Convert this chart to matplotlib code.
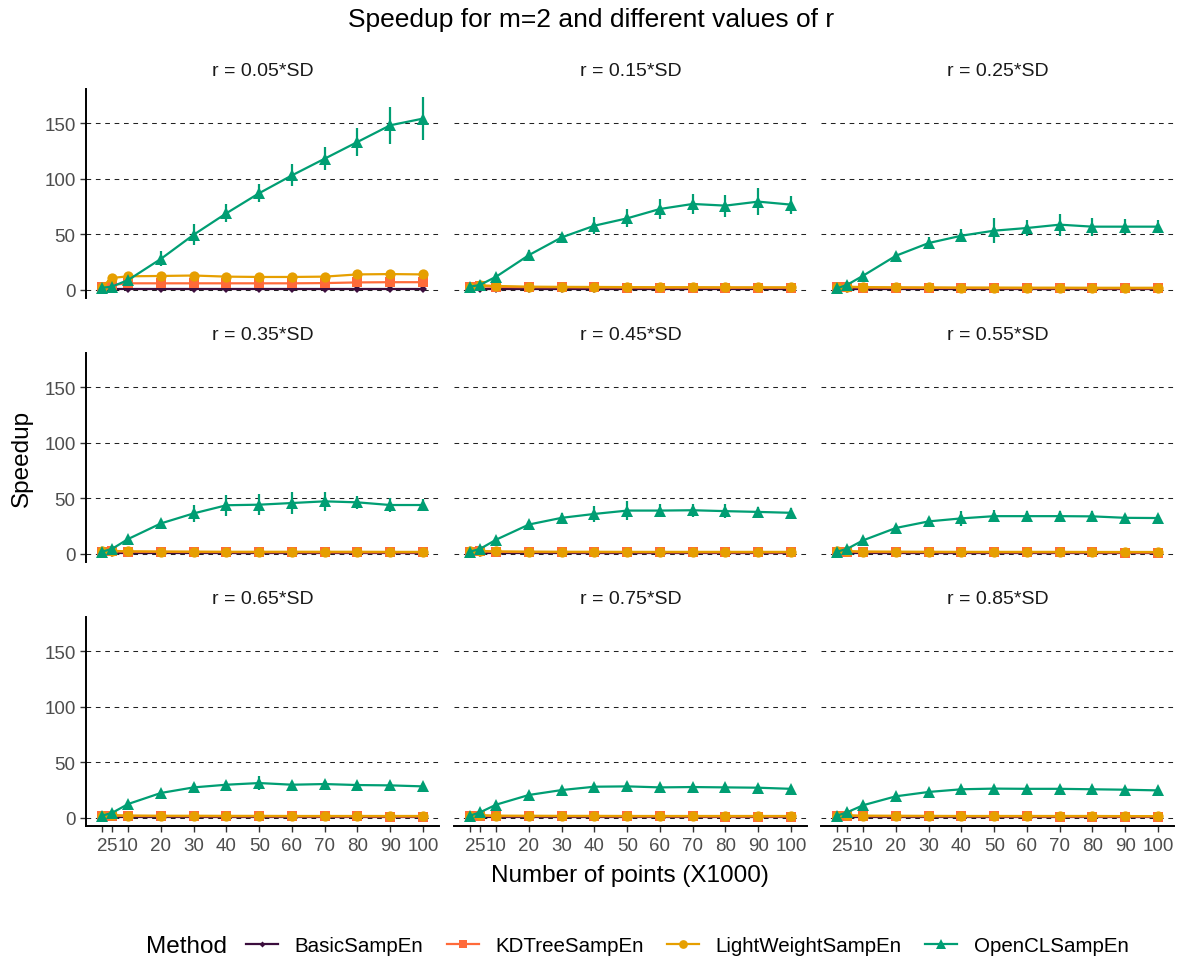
import matplotlib
matplotlib.use("Agg")
import matplotlib.pyplot as plt
from matplotlib.lines import Line2D

plt.rcParams["font.family"] = ["Liberation Sans", "DejaVu Sans"]

# ---- data -------------------------------------------------------------
points = [2, 5, 10, 20, 30, 40, 50, 60, 70, 80, 90, 100]
tick_labels = ["2", "5", "10", "20", "30", "40", "50", "60", "70", "80", "90", "100"]
radii = ["0.05", "0.15", "0.25", "0.35", "0.45", "0.55", "0.65", "0.75", "0.85"]
methods = ["BasicSampEn", "KDTreeSampEn", "LightWeightSampEn", "OpenCLSampEn"]
y_ticks = [0, 50, 100, 150]

basic_speedup = [
    [1.0, 1.0, 1.0, 1.0, 1.0, 1.0, 1.0, 1.0, 1.0, 1.0, 1.0, 1.0],
    [1.0, 1.0, 1.0, 1.0, 1.0, 1.0, 1.0, 1.0, 1.0, 1.0, 1.0, 1.0],
    [1.0, 1.0, 1.0, 1.0, 1.0, 1.0, 1.0, 1.0, 1.0, 1.0, 1.0, 1.0],
    [1.0, 1.0, 1.0, 1.0, 1.0, 1.0, 1.0, 1.0, 1.0, 1.0, 1.0, 1.0],
    [1.0, 1.0, 1.0, 1.0, 1.0, 1.0, 1.0, 1.0, 1.0, 1.0, 1.0, 1.0],
    [1.0, 1.0, 1.0, 1.0, 1.0, 1.0, 1.0, 1.0, 1.0, 1.0, 1.0, 1.0],
    [1.0, 1.0, 1.0, 1.0, 1.0, 1.0, 1.0, 1.0, 1.0, 1.0, 1.0, 1.0],
    [1.0, 1.0, 1.0, 1.0, 1.0, 1.0, 1.0, 1.0, 1.0, 1.0, 1.0, 1.0],
    [1.0, 1.0, 1.0, 1.0, 1.0, 1.0, 1.0, 1.0, 1.0, 1.0, 1.0, 1.0],
]

kdtree_speedup = [
    [3.0, 4.5, 6.0, 6.0, 6.0, 6.0, 6.0, 6.0, 6.2, 6.8, 7.0, 7.0],
    [2.5, 3.2, 2.8, 2.5, 2.4, 2.3, 2.2, 2.1, 2.1, 2.0, 2.0, 2.0],
    [2.3, 2.6, 2.2, 2.0, 1.9, 1.8, 1.7, 1.6, 1.6, 1.5, 1.5, 1.5],
    [2.2, 2.4, 2.0, 1.9, 1.8, 1.7, 1.6, 1.6, 1.5, 1.5, 1.4, 1.4],
    [2.1, 2.3, 1.9, 1.8, 1.7, 1.6, 1.6, 1.5, 1.5, 1.4, 1.4, 1.4],
    [2.0, 2.2, 1.8, 1.7, 1.6, 1.6, 1.5, 1.5, 1.4, 1.4, 1.3, 1.3],
    [2.0, 2.1, 1.8, 1.7, 1.6, 1.5, 1.5, 1.4, 1.4, 1.4, 1.3, 1.3],
    [1.9, 2.1, 1.7, 1.6, 1.6, 1.5, 1.4, 1.4, 1.4, 1.3, 1.3, 1.3],
    [1.9, 2.0, 1.7, 1.6, 1.5, 1.5, 1.4, 1.4, 1.3, 1.3, 1.3, 1.3],
]

lightweight_speedup = [
    [3.0, 10.8, 12.3, 12.6, 13.0, 12.0, 11.7, 11.7, 12.0, 14.0, 14.3, 14.0],
    [3.0, 4.2, 3.6, 3.0, 2.8, 2.7, 2.6, 2.5, 2.5, 2.4, 2.4, 2.4],
    [2.5, 3.0, 2.6, 2.4, 2.3, 2.2, 2.2, 2.1, 2.1, 2.0, 2.0, 2.0],
    [2.4, 2.8, 2.4, 2.2, 2.1, 2.0, 2.0, 2.0, 2.0, 2.0, 1.9, 1.9],
    [2.3, 2.7, 2.3, 2.1, 2.0, 2.0, 1.9, 1.9, 1.9, 1.9, 1.9, 1.9],
    [2.3, 2.6, 2.2, 2.1, 2.0, 1.9, 1.9, 1.9, 1.9, 1.8, 1.8, 1.8],
    [2.2, 2.5, 2.2, 2.0, 2.0, 1.9, 1.9, 1.8, 1.8, 1.8, 1.8, 1.8],
    [2.2, 2.5, 2.1, 2.0, 1.9, 1.9, 1.8, 1.8, 1.8, 1.8, 1.8, 1.8],
    [2.2, 2.4, 2.1, 2.0, 1.9, 1.8, 1.8, 1.8, 1.8, 1.8, 1.7, 1.7],
]

lightweight_error = [
    [0.3, 0.8, 0.6, 0.6, 0.8, 0.8, 0.8, 0.8, 1.0, 1.6, 1.8, 1.6],
    [0.2, 0.3, 0.3, 0.2, 0.2, 0.2, 0.2, 0.2, 0.2, 0.2, 0.2, 0.2],
    [0.2, 0.3, 0.2, 0.2, 0.2, 0.2, 0.2, 0.2, 0.2, 0.2, 0.2, 0.2],
    [0.2, 0.3, 0.2, 0.2, 0.2, 0.2, 0.2, 0.2, 0.2, 0.2, 0.2, 0.2],
    [0.2, 0.3, 0.2, 0.2, 0.2, 0.2, 0.2, 0.2, 0.2, 0.2, 0.2, 0.2],
    [0.2, 0.3, 0.2, 0.2, 0.2, 0.2, 0.2, 0.2, 0.2, 0.2, 0.2, 0.2],
    [0.2, 0.3, 0.2, 0.2, 0.2, 0.2, 0.2, 0.2, 0.2, 0.2, 0.2, 0.2],
    [0.2, 0.3, 0.2, 0.2, 0.2, 0.2, 0.2, 0.2, 0.2, 0.2, 0.2, 0.2],
    [0.2, 0.3, 0.2, 0.2, 0.2, 0.2, 0.2, 0.2, 0.2, 0.2, 0.2, 0.2],
]

opencl_speedup = [
    [2.0, 3.0, 9.0, 28.0, 49.7, 69.0, 87.0, 103.0, 118.0, 133.0, 148.0, 154.0],
    [3.0, 4.5, 12.0, 31.4, 47.3, 57.8, 64.4, 72.8, 77.3, 75.8, 79.4, 76.7],
    [1.5, 4.5, 12.9, 30.8, 42.2, 48.8, 53.3, 55.7, 58.7, 56.9, 56.9, 56.9],
    [2.1, 4.5, 13.5, 27.5, 36.5, 43.8, 44.3, 45.8, 47.3, 46.4, 44.0, 44.0],
    [2.1, 4.5, 12.9, 26.5, 32.5, 36.0, 39.0, 39.0, 39.3, 38.5, 37.8, 37.0],
    [2.1, 4.5, 12.3, 23.4, 29.3, 32.0, 34.0, 34.0, 34.0, 33.8, 32.5, 32.3],
    [2.1, 4.5, 12.6, 22.5, 27.5, 29.9, 31.4, 29.9, 30.5, 29.6, 29.3, 28.4],
    [2.1, 5.0, 12.0, 20.7, 25.1, 28.1, 28.4, 27.5, 27.8, 27.5, 27.2, 26.2],
    [2.1, 5.0, 11.5, 19.5, 23.4, 25.8, 26.4, 26.2, 26.2, 25.8, 25.4, 24.8],
]

opencl_error = [
    [0.5, 1.0, 2.5, 6.6, 9.4, 8.0, 8.0, 10.0, 10.5, 12.4, 16.5, 19.3],
    [0.5, 1.0, 2.0, 4.5, 4.0, 7.5, 8.0, 8.7, 9.0, 10.0, 12.0, 8.0],
    [0.5, 1.0, 2.0, 3.0, 5.0, 6.0, 11.0, 7.0, 10.0, 8.0, 7.0, 6.0],
    [0.5, 1.0, 2.0, 3.5, 7.5, 9.4, 9.4, 10.0, 8.5, 6.0, 6.0, 5.7],
    [0.5, 1.0, 1.5, 3.0, 4.0, 7.5, 8.5, 6.0, 6.0, 6.0, 4.0, 4.0],
    [0.5, 1.0, 1.5, 3.0, 4.0, 6.5, 5.7, 5.0, 4.5, 4.5, 3.0, 3.0],
    [0.5, 1.0, 1.5, 2.5, 4.0, 3.5, 6.5, 3.0, 3.0, 3.0, 3.0, 3.0],
    [0.5, 1.0, 1.5, 2.5, 3.5, 3.5, 3.5, 3.0, 3.0, 3.0, 2.5, 2.5],
    [0.5, 1.0, 1.5, 2.0, 3.0, 3.0, 3.0, 3.0, 2.5, 2.5, 2.5, 2.5],
]

# ---- styling ------------------------------------------------------------
colors = {
    "BasicSampEn": "#3B0D3D",
    "KDTreeSampEn": "#FF6A3A",
    "LightWeightSampEn": "#E69F00",
    "OpenCLSampEn": "#009E73",
}
markers = {"BasicSampEn": "D", "KDTreeSampEn": "s",
           "LightWeightSampEn": "o", "OpenCLSampEn": "^"}
msizes = {"BasicSampEn": 3.6, "KDTreeSampEn": 7.4,
          "LightWeightSampEn": 7.4, "OpenCLSampEn": 9.2}

series = {
    "BasicSampEn": (basic_speedup, None),
    "KDTreeSampEn": (kdtree_speedup, None),
    "LightWeightSampEn": (lightweight_speedup, lightweight_error),
    "OpenCLSampEn": (opencl_speedup, opencl_error),
}

W, H = 1183, 962
fig = plt.figure(figsize=(W / 100, H / 100), dpi=100)

col_left = [86, 454, 821]
col_width = 353
row_top = [90, 354, 618]
row_height = 209

tick_color = "#4d4d4d"
text_color = "#1a1a1a"

for i, r in enumerate(radii):
    row, col = divmod(i, 3)
    left = col_left[col] / W
    bottom = 1 - (row_top[row] + row_height) / H
    ax = fig.add_axes([left, bottom, col_width / W, row_height / H])
    ax.set_xlim(-2.9, 104.9)
    ax.set_ylim(-7.2, 180.6)

    for yv in y_ticks:
        ax.axhline(yv, color="#222222", lw=0.75, ls=(0, (4.5, 4.5)), zorder=0.5)

    for m in methods:
        vals, errs = series[m]
        y = vals[i]
        if errs is not None:
            e = errs[i]
            ax.vlines(points, [v - d for v, d in zip(y, e)],
                      [v + d for v, d in zip(y, e)],
                      color=colors[m], lw=1.6, zorder=2)
        ax.plot(points, y, color=colors[m], lw=1.6, marker=markers[m],
                ms=msizes[m], mew=0, zorder=3)

    ax.set_title(f"r = {r}*SD", fontsize=14, color=text_color, pad=10)

    for s in ax.spines.values():
        s.set_visible(False)
    ax.set_yticks(y_ticks)
    ax.set_xticks(points)
    if col == 0:
        ax.spines["left"].set_visible(True)
        ax.spines["left"].set_linewidth(1.4)
        ax.spines["left"].set_color("black")
        ax.set_yticklabels([str(t) for t in y_ticks], fontsize=13.5, color=tick_color)
        ax.tick_params(axis="y", length=4.5, width=1.0, color="#333333", pad=3)
    else:
        ax.tick_params(axis="y", length=0, labelleft=False)
    if row == 2:
        ax.spines["bottom"].set_visible(True)
        ax.spines["bottom"].set_linewidth(1.4)
        ax.spines["bottom"].set_color("black")
        ax.set_xticklabels(tick_labels, fontsize=13.5, color=tick_color)
        ax.tick_params(axis="x", length=4.5, width=1.0, color="#333333", pad=3.5)
    else:
        ax.tick_params(axis="x", length=0, labelbottom=False)

fig.text(0.5, 1 - 20 / H, "Speedup for m=2 and different values of r",
         ha="center", va="center", fontsize=19, color="black")
fig.text((86 + 1174) / 2 / W, 1 - 876 / H, "Number of points (X1000)",
         ha="center", va="center", fontsize=17.5, color="black")
fig.text(22 / W, 1 - 458 / H, "Speedup", rotation=90,
         ha="center", va="center", fontsize=17.5, color="black")

# legend
fig.text(146 / W, 1 - 947 / H, "Method", ha="left", va="center",
         fontsize=17.5, color="black")
handles = [Line2D([0], [0], color=colors[m], lw=1.6, marker=markers[m],
                  ms=msizes[m] * 0.85, mew=0) for m in methods]
fig.legend(handles, methods, loc="center left",
           bbox_to_anchor=(246 / W, 1 - 947 / H), ncol=4, frameon=False,
           fontsize=14.8, handlelength=1.55, handletextpad=0.8,
           columnspacing=1.15, borderpad=0, borderaxespad=0)

fig.savefig("out.png", dpi=100)
